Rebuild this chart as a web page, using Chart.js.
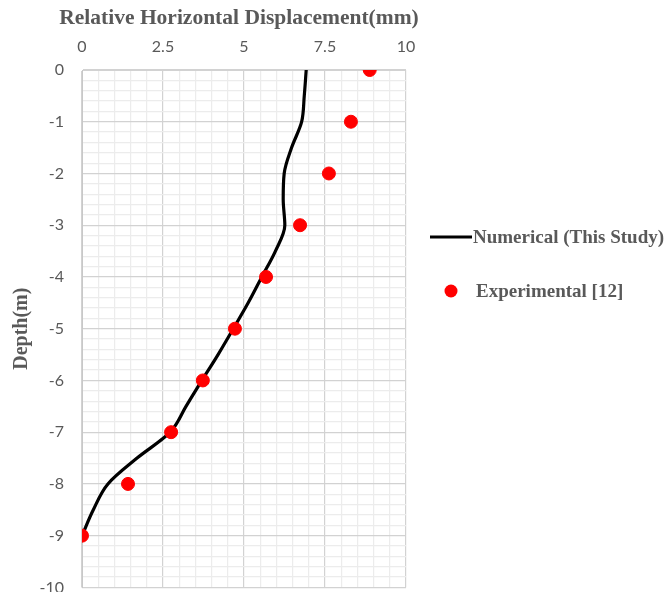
<!DOCTYPE html>
<html>
<head>
<meta charset="utf-8">
<script src="https://cdn.jsdelivr.net/npm/chart.js@4.4.1/dist/chart.umd.min.js"></script>
<style>
  html, body { margin: 0; padding: 0; background: #fff; overflow: hidden; }
  #wrap { position: relative; width: 672px; height: 615px; }
</style>
</head>
<body>
<div id="wrap"><canvas id="depth-chart"></canvas></div>
<script>
// Experimental readings, one per metre of depth
const expDepth = [0, -1, -2, -3, -4, -5, -6, -7, -8, -9];
const expDisp = [8.88, 8.3, 7.62, 6.73, 5.68, 4.72, 3.73, 2.75, 1.42, 0];

// Numerical profile along the pile, every half metre
const numDepth = [0, -0.5, -1, -1.5, -2, -2.5, -3, -3.5, -4, -4.5, -5, -5.5, -6, -6.5, -7, -7.5, -8, -8.5, -9];
const numDisp = [6.92, 6.86, 6.78, 6.47, 6.24, 6.21, 6.26, 5.97, 5.55, 5.13, 4.67, 4.2, 3.7, 3.21, 2.72, 1.7, 0.8, 0.35, 0];

const xLabels = ["0", "2.5", "5", "7.5", "10"];
const seriesNames = ["Numerical (This Study)", "Experimental [12]"];
const xTitle = "Relative Horizontal Displacement(mm)";
const yTitle = "Depth(m)";

const textGrey = "#595959";
const serifFamily = "'Liberation Serif', 'Times New Roman', serif";
const tickFont = { family: "Lato, 'Open Sans', sans-serif", size: 16 };

function isMultiple(v, step) {
  const r = v / step;
  return Math.abs(r - Math.round(r)) < 1e-6;
}

// Axis titles and the legend on the right, styled from the datasets
const decorations = {
  id: "decorations",
  afterDraw(chart) {
    const c = chart.ctx;
    const area = chart.chartArea;
    const ds = chart.data.datasets;
    c.save();
    c.fillStyle = textGrey;
    c.textAlign = "center";
    c.textBaseline = "middle";

    c.font = "bold 21.5px " + serifFamily;
    c.fillText(xTitle, (area.left + area.right) / 2 - 5, 18);

    c.save();
    c.translate(22, (area.top + area.bottom) / 2);
    c.rotate(-Math.PI / 2);
    c.font = "bold 20px " + serifFamily;
    c.fillText(yTitle, 0, 0);
    c.restore();

    const x0 = area.right + 24;
    const rows = [237, 291];
    c.textAlign = "left";
    c.font = "bold 19px " + serifFamily;
    c.strokeStyle = ds[0].borderColor;
    c.lineWidth = ds[0].borderWidth;
    c.beginPath();
    c.moveTo(x0, rows[0]);
    c.lineTo(x0 + 42, rows[0]);
    c.stroke();
    c.fillText(ds[0].label, x0 + 43, rows[0] + 1);

    c.fillStyle = ds[1].backgroundColor;
    c.beginPath();
    c.arc(x0 + 21, rows[1], ds[1].pointRadius, 0, Math.PI * 2);
    c.fill();
    c.fillStyle = textGrey;
    c.fillText(ds[1].label, x0 + 46, rows[1] + 1);
    c.restore();
  },
};

const ctx = document.getElementById("depth-chart").getContext("2d");
new Chart(ctx, {
  type: "scatter",
  data: {
    datasets: [
      {
        label: seriesNames[0],
        data: numDepth.map((d, i) => ({ x: numDisp[i], y: d })),
        showLine: true,
        indexAxis: "y",
        cubicInterpolationMode: "monotone",
        borderColor: "#000",
        backgroundColor: "#000",
        borderWidth: 3.2,
        pointRadius: 0,
        order: 1,
      },
      {
        label: seriesNames[1],
        data: expDepth.map((d, i) => ({ x: expDisp[i], y: d })),
        backgroundColor: "#ff0000",
        borderColor: "#ff0000",
        pointRadius: 6.5,
        order: 0,
      },
    ],
  },
  options: {
    responsive: true,
    maintainAspectRatio: false,
    animation: false,
    layout: { autoPadding: false, padding: { top: 0, left: 0, right: 266, bottom: 5 } },
    plugins: {
      tooltip: { enabled: false },
      legend: { display: false },
    },
    scales: {
      x: {
        type: "linear",
        position: "top",
        min: 0,
        max: 10,
        afterFit: (s) => { s.height = 70; },
        ticks: {
          stepSize: 0.5,
          autoSkip: false,
          maxRotation: 0,
          padding: 14,
          color: textGrey,
          font: tickFont,
          callback: (v) => (isMultiple(v, 2.5) ? xLabels[Math.round(v / 2.5)] : ""),
        },
        grid: {
          drawTicks: false,
          color: (c) => (isMultiple(c.tick.value, 2.5) ? "#d2d2d2" : "#ececec"),
          lineWidth: 1.2,
        },
        border: { color: "#d2d2d2" },
      },
      y: {
        type: "linear",
        min: -10,
        max: 0,
        afterFit: (s) => { s.width = 82; },
        ticks: {
          stepSize: 0.2,
          autoSkip: false,
          padding: 18,
          color: textGrey,
          font: tickFont,
          callback: (v) => (isMultiple(v, 1) ? String(Math.round(v)) : ""),
        },
        grid: {
          drawTicks: false,
          color: (c) => (isMultiple(c.tick.value, 1) ? "#d2d2d2" : "#ececec"),
          lineWidth: 1.2,
        },
        border: { color: "#c8c8c8" },
      },
    },
  },
  plugins: [decorations],
});
</script>
</body>
</html>
